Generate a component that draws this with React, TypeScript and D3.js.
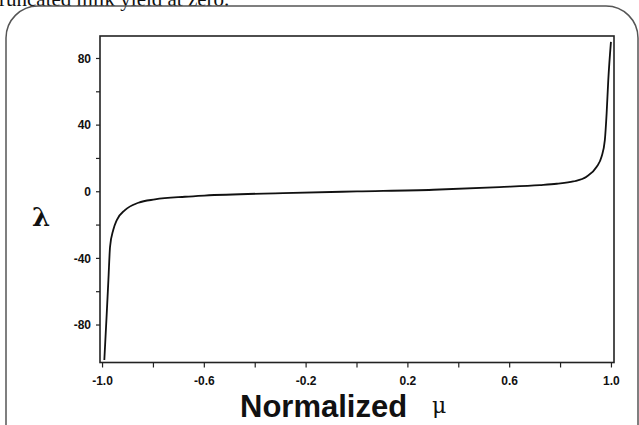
import * as d3 from 'd3'

// normalized mu vs lambda
const muValues = [-0.993, -0.9835, -0.977, -0.9705, -0.958, -0.944, -0.912, -0.859, -0.794, -0.676, -0.6, -0.29, 0, 0.3, 0.56, 0.719, 0.785, 0.85, 0.902, 0.942, 0.961, 0.974, 0.981, 0.9875, 0.998]
const lambdaValues = [-101, -73, -53, -33, -23, -17, -11, -6.6, -4.6, -3, -2.3, -0.8, 0.2, 1.2, 2.8, 4, 4.8, 6.2, 9, 15, 21, 31, 47, 67, 90]

const xTicks = [-1.0, -0.8, -0.6, -0.4, -0.2, 0, 0.2, 0.4, 0.6, 0.8, 1.0]
const xTickLabels = [-1.0, -0.6, -0.2, 0.2, 0.6, 1.0]
const yTicks = [-80, -60, -40, -20, 0, 20, 40, 60, 80]
const yTickLabels = [-80, -40, 0, 40, 80]

const width = 639
const height = 425

export default function App() {
  const x = d3.scaleLinear().domain([-1.01, 1.01]).range([100, 614])
  const y = d3.scaleLinear().domain([-102.5, 93.5]).range([362.5, 36])

  const points = muValues.map((m, i) => [m, lambdaValues[i]] as [number, number])
  const line = d3.line<[number, number]>()
    .x(d => x(d[0]))
    .y(d => y(d[1]))
    .curve(d3.curveMonotoneX)

  const [x0, x1] = x.range()
  const [y0, y1] = y.range()

  return (
    <svg width={width} height={height} style={{ position: 'absolute', left: 0, top: 0, background: '#fff' }}>
      <text x={-1} y={6} fontFamily="Liberation Serif" fontSize={21} fill="#111">runcated milk yield at zero.</text>
      <rect x={6} y={6} width={632} height={520} rx={32} fill="none" stroke="#555" strokeWidth={1.5} />

      {/* frame */}
      <rect x={x0} y={y1} width={x1 - x0} height={y0 - y1} fill="none" stroke="#222" strokeWidth={1.6} />

      {yTicks.map(t => (
        <line key={'yt' + t} x1={x0 - 4} x2={x0} y1={y(t)} y2={y(t)} stroke="#222" strokeWidth={1.2} />
      ))}
      {yTickLabels.map(t => (
        <text key={'yl' + t} x={x0 - 9} y={y(t)} dy="0.35em" textAnchor="end"
          fontFamily="Liberation Sans" fontWeight="bold" fontSize={12} fill="#111">{t}</text>
      ))}

      {xTicks.map(t => (
        <line key={'xt' + t} x1={x(t)} x2={x(t)} y1={y0} y2={y0 + 5} stroke="#222" strokeWidth={1.2} />
      ))}
      {xTickLabels.map(t => (
        <text key={'xl' + t} x={x(t)} y={384.5} textAnchor="middle"
          fontFamily="Liberation Sans" fontWeight="bold" fontSize={12} fill="#111">{t.toFixed(1)}</text>
      ))}

      <path d={line(points) ?? ''} fill="none" stroke="#111" strokeWidth={1.8} />

      <text x={240} y={417} fontFamily="Liberation Sans" fontWeight="bold" fontSize={31} fill="#111">Normalized</text>
      <text x={432} y={413} fontFamily="DejaVu Serif" fontSize={22} fill="#111">μ</text>
      <text x={32} y={226} fontFamily="DejaVu Serif" fontWeight="bold" fontSize={26} fill="#111">λ</text>
    </svg>
  )
}
